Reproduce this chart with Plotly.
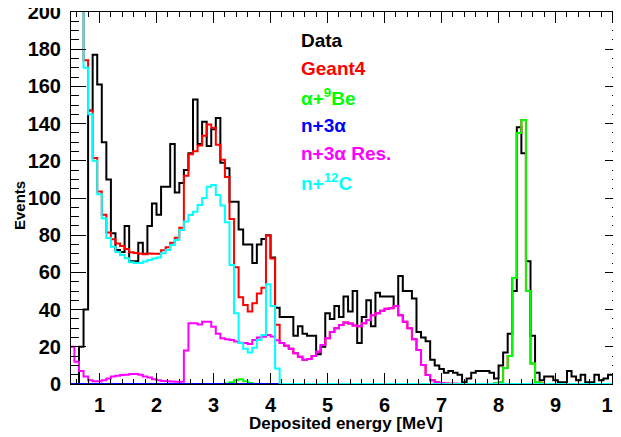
import plotly.graph_objects as go

# ---- binning (histogram bins of 0.08 MeV) ----
first_edge = 0.48
bin_width = 0.08

# ---- series values (events per bin) ----
data_counts = [
    0, 0, 20, 40, 147, 177, 161, 130, 110, 81,
    72, 71, 85, 66, 66, 76, 70, 85, 97, 91,
    106, 106, 129, 103, 108, 115, 124, 153, 129, 141,
    128, 137, 143, 119, 116, 98, 98, 83, 75, 75,
    65, 75, 78, 80, 68, 41, 36, 36, 36, 26,
    31, 27, 26, 26, 16, 20, 38, 35, 42, 36,
    47, 39, 50, 22, 36, 45, 31, 49, 47, 47,
    47, 42, 58, 50, 50, 46, 28, 25, 23, 13,
    10, 8, 6, 7, 6, 5, 1, 3, 6, 7,
    7, 7, 6, 3, 10, 17, 27, 50, 138, 124,
    66, 26, 6, 2, 4, 4, 2, 1, 1, 7,
    4, 2, 5, 1, 1, 5, 2, 3, 5, 5,
    5,
]

geant4 = [
    350, 302, 247, 174, 147, 121.5, 103.5, 91, 81.5, 77.8,
    75.5, 74.2, 72.6, 70.9, 70.4, 70, 69.8, 70.2, 70, 70,
    71.9, 73.5, 76, 78.6, 84, 112, 123.5, 125.2, 128.2, 133.5,
    139.5, 137.8, 128.6, 120.6, 111.3, 88.7, 62.8, 46.7, 42.5, 39,
    43.4, 48.7, 51.7, 79.9, 67.5, 31.9, 22, 20.5, 19, 16.5,
    14.7, 13, 13.5, 15, 17.4, 21, 24.6, 28, 30, 31.7,
    33, 32.5, 31.5, 31, 32.6, 34.4, 37, 38, 39.4, 40.5,
    40.7, 42, 37, 33.5, 30, 24, 18.3, 10.2, 4.8, 2,
    1, 0.5, 0.3, 0.2, 0.1, 0, 0, 0, 0, 0,
    0, 0, 0, 0.5, 1, 8.6, 15, 57, 135, 142,
    50, 11, 1, 0.3, 0, 0, 0, 0, 0, 0,
    0, 0, 0, 0, 0, 0, 0, 0, 0, 0,
    0,
]

alpha_be9 = [
    0, 0, 0, 0, 0, 0, 0, 0, 0, 0,
    0, 0, 0, 0, 0, 0, 0, 0, 0, 0,
    0, 0, 0, 0, 0, 0, 0, 0, 0, 0,
    0, 0, 0, 0, 0.3, 1, 2, 2.5, 1.5, 0.5,
    0.2, 0, 0, 0, 0, 0, 0, 0, 0, 0,
    0, 0, 0, 0, 0, 0, 0, 0, 0, 0,
    0, 0, 0, 0, 0, 0, 0, 0, 0, 0,
    0, 0, 0, 0, 0, 0, 0, 0, 0, 0,
    0, 0, 0, 0, 0, 0, 0, 0, 0, 0,
    0, 0, 0, 0.5, 1, 8.6, 15, 57, 135, 142,
    50, 11, 1, 0.3, 0, 0, 0, 0, 0, 0,
    0, 0, 0, 0, 0, 0, 0, 0, 0, 0,
    0,
]

n_3alpha = [0] * 121

n_3alpha_res = [
    20, 12, 7, 4, 2, 1.5, 1.5, 2, 3, 4,
    4.5, 4.8, 5, 5.4, 5.4, 5, 4, 3.5, 2.5, 2,
    1.6, 1.5, 1.3, 1.2, 1.2, 18, 32.6, 32.6, 32, 33.5,
    33.5, 30.8, 27, 24.6, 24, 23.7, 22.8, 22.2, 22, 21.5,
    23.7, 25, 25.4, 26.3, 25.5, 23.5, 22, 20.5, 19, 16.5,
    14.7, 13, 13.5, 15, 17.4, 21, 24.6, 28, 30, 31.7,
    33, 32.5, 31.5, 31, 32.6, 34.4, 37, 38, 39.4, 40.5,
    40.7, 42, 37, 33.5, 30, 24, 18.3, 10.2, 4.8, 2,
    1, 0.5, 0.3, 0.2, 0.1, 0, 0, 0, 0, 0,
    0, 0, 0, 0, 0, 0, 0, 0, 0, 0,
    0, 0, 0, 0, 0, 0, 0, 0, 0, 0,
    0, 0, 0, 0, 0, 0, 0, 0, 0, 0,
    0,
]

n_c12 = [
    330, 290, 240, 170, 145, 120, 102, 89, 78.5, 73.8,
    71, 69.4, 67.6, 65.5, 65, 65, 65.8, 66.7, 67.5, 68,
    70.3, 72, 74.7, 77.4, 82.8, 87.3, 90.9, 92.6, 96.2, 100,
    106, 107, 101.6, 96, 87, 64, 38, 22, 19, 17,
    19.5, 23.7, 26.3, 53.6, 42, 8.4, 0, 0, 0, 0,
    0, 0, 0, 0, 0, 0, 0, 0, 0, 0,
    0, 0, 0, 0, 0, 0, 0, 0, 0, 0,
    0, 0, 0, 0, 0, 0, 0, 0, 0, 0,
    0, 0, 0, 0, 0, 0, 0, 0, 0, 0,
    0, 0, 0, 0, 0, 0, 0, 0, 0, 0,
    0, 0, 0, 0, 0, 0, 0, 0, 0, 0,
    0, 0, 0, 0, 0, 0, 0, 0, 0, 0,
    0,
]

series_names = ["Data", "Geant4", "α+<sup>9</sup>Be", "n+3α", "n+3α Res.", "n+<sup>12</sup>C"]
series_colors = ["#000000", "#ff0000", "#00ff00", "#0000ff", "#ff00ff", "#00ffff"]
series_values = [data_counts, geant4, alpha_be9, n_3alpha, n_3alpha_res, n_c12]

x_tick_vals = [1, 2, 3, 4, 5, 6, 7, 8, 9, 10]
y_tick_vals = [0, 20, 40, 60, 80, 100, 120, 140, 160, 180, 200]

x_title = "Deposited energy [MeV]"
y_title = "Events"

FONT = "Liberation Sans, Arial, Helvetica, sans-serif"

# page offset of the figure div (browser default body margin)
OFF = 8
FIG_W, FIG_H = 621 - OFF, 437 - OFF
PL, PT, PR, PB = 71, 12, 620, 384          # plot frame in page pixels
PW, PH = PR - PL, PB - PT


def px_x(px):
    return (px - PL) / PW


def px_y(py):
    return (PB - py) / PH


def step_xy(vals):
    n = len(vals)
    edges = [first_edge + bin_width * i for i in range(n + 1)]
    xs = [edges[0]] + edges + [edges[-1]]
    ys = [0] + list(vals) + [vals[-1], 0]
    return xs, ys


fig = go.Figure()
for name, color, vals in zip(series_names, series_colors, series_values):
    xs, ys = step_xy(vals)
    fig.add_trace(go.Scatter(
        x=xs, y=ys, mode="lines", line=dict(color=color, width=2, shape="hv"),
        name=name, showlegend=False, hoverinfo="skip",
    ))

axis_common = dict(
    showgrid=False, zeroline=False, showline=True, linecolor="black", linewidth=1,
    mirror="ticks", ticks="inside", tickcolor="black", tickwidth=1,
    ticklabeloverflow="allow",
    tickfont=dict(family=FONT, size=20, color="black", weight="bold"),
)

fig.update_layout(
    width=FIG_W, height=FIG_H,
    margin=dict(l=PL - OFF, r=FIG_W - (PR - OFF), t=PT - OFF, b=FIG_H - (PB - OFF), autoexpand=False),
    paper_bgcolor="white", plot_bgcolor="white",
    xaxis=dict(range=[0.5, 10.13], tickvals=x_tick_vals, ticklen=11, ticklabelstandoff=3,
               minor=dict(ticks="inside", dtick=0.2, tick0=0, ticklen=5, tickcolor="black"),
               **axis_common),
    yaxis=dict(range=[0, 200], tickvals=y_tick_vals, ticklen=15, ticklabelstandoff=5,
               minor=dict(ticks="inside", dtick=5, tick0=0, ticklen=8, tickcolor="black"),
               **axis_common),
)

# axis titles
fig.add_annotation(text=x_title, xref="paper", yref="paper",
                   x=px_x(346), y=px_y(424), xanchor="center", yanchor="middle",
                   showarrow=False, font=dict(family=FONT, size=17, color="black", weight="bold"))
fig.add_annotation(text=y_title, xref="paper", yref="paper", textangle=-90,
                   x=px_x(19), y=px_y(206), xanchor="center", yanchor="middle",
                   showarrow=False, font=dict(family=FONT, size=15, color="black", weight="bold"))

# legend text
leg_base = [46.7, 75, 103.3, 131.7, 160, 188]
for name, color, base in zip(series_names, series_colors, leg_base):
    fig.add_annotation(text=name, xref="paper", yref="paper",
                       x=px_x(299), y=px_y(base - 6.5),
                       xanchor="left", yanchor="middle", showarrow=False,
                       font=dict(family=FONT, size=19, color=color, weight="bold"))

fig.write_html("out.html")
